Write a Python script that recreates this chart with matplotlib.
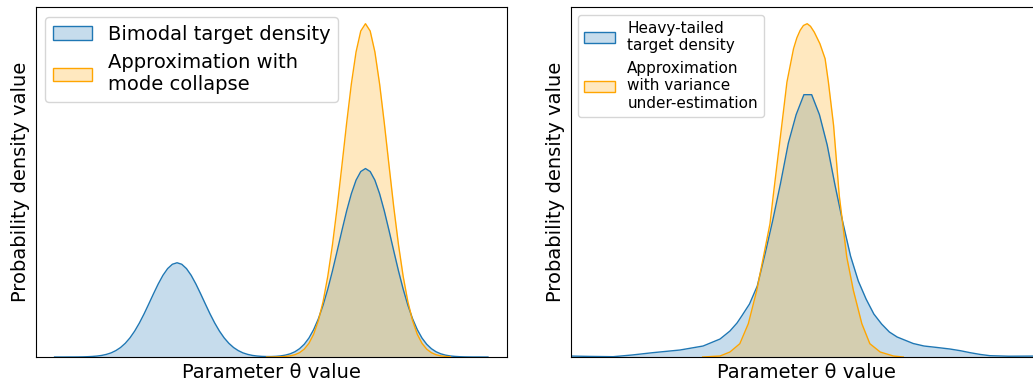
import numpy as np
import matplotlib
matplotlib.use("Agg")
import matplotlib.pyplot as plt
from matplotlib.patches import Patch
from matplotlib.colors import to_rgba

# ---- left panel: bimodal target vs. mode-collapsed approximation ----
bimodal_x = np.round(np.arange(-4.6, 4.61, 0.1), 2)
bimodal_y = [
    0.0000, 0.0000, 0.0000, 0.0001, 0.0001, 0.0002, 0.0004, 0.0008, 0.0014, 0.0024,
    0.0040, 0.0066, 0.0104, 0.0161, 0.0239, 0.0345, 0.0482, 0.0653, 0.0856, 0.1087,
    0.1338, 0.1594, 0.1840, 0.2058, 0.2228, 0.2337, 0.2375, 0.2337, 0.2228, 0.2058,
    0.1840, 0.1594, 0.1338, 0.1087, 0.0856, 0.0653, 0.0482, 0.0345, 0.0239, 0.0161,
    0.0104, 0.0066, 0.0040, 0.0025, 0.0016, 0.0012, 0.0012, 0.0017, 0.0028, 0.0048,
    0.0080, 0.0131, 0.0209, 0.0321, 0.0478, 0.0690, 0.0964, 0.1305, 0.1712, 0.2174,
    0.2675, 0.3188, 0.3680, 0.4114, 0.4456, 0.4674, 0.4749, 0.4674, 0.4456, 0.4114,
    0.3680, 0.3188, 0.2675, 0.2174, 0.1712, 0.1305, 0.0964, 0.0690, 0.0478, 0.0321,
    0.0209, 0.0131, 0.0080, 0.0047, 0.0027, 0.0015, 0.0008, 0.0004, 0.0002, 0.0001,
    0.0001, 0.0000, 0.0000,
]
collapse_x = np.round(np.arange(-0.1, 3.81, 0.1), 2)
collapse_y = [
    0.0000, 0.0001, 0.0003, 0.0006, 0.0014, 0.0029, 0.0057, 0.0109, 0.0198, 0.0345,
    0.0575, 0.0916, 0.1395, 0.2034, 0.2836, 0.3782, 0.4827, 0.5892, 0.6880, 0.7687,
    0.8215, 0.8399, 0.8215, 0.7687, 0.6880, 0.5892, 0.4827, 0.3782, 0.2836, 0.2034,
    0.1395, 0.0916, 0.0575, 0.0345, 0.0198, 0.0109, 0.0057, 0.0029, 0.0014, 0.0006,
]

# ---- right panel: heavy-tailed target vs. variance under-estimation ----
heavy_x = [-5.05, -4.60, -4.10, -3.70, -3.26, -2.68, -2.19, -1.83, -1.62, -1.47,
           -1.37, -1.205, -1.04, -0.875, -0.71, -0.545, -0.38, -0.215, -0.05, 0.115,
           0.28, 0.445, 0.61, 0.775, 0.94, 1.105, 1.27, 1.435, 1.60, 1.765,
           1.93, 2.27, 2.50, 2.78, 3.05, 3.27, 3.48, 3.70, 3.90, 4.30, 5.10]
heavy_y = [0.0025, 0.0015, 0.0008, 0.0050, 0.0108, 0.0175, 0.0275, 0.0450, 0.0650, 0.0850,
           0.1025, 0.1325, 0.1775, 0.2575, 0.3425, 0.4350, 0.5350, 0.6060, 0.6560, 0.6560,
           0.6060, 0.5300, 0.4300, 0.3375, 0.2525, 0.1900, 0.1450, 0.1075, 0.0825, 0.0625,
           0.0500, 0.0338, 0.0275, 0.0238, 0.0200, 0.0158, 0.0108, 0.0063, 0.0033, 0.0020,
           0.0025]
narrow_x = [-2.20, -1.83, -1.62, -1.41, -1.23, -1.05, -0.91, -0.77, -0.70, -0.52,
            -0.41, -0.27, -0.20, -0.13, -0.06, 0.02, 0.09, 0.17, 0.29, 0.40,
            0.47, 0.58, 0.70, 0.86, 1.00, 1.18, 1.35, 1.57, 1.85, 2.06]
narrow_y = [0.0000, 0.0025, 0.0125, 0.0333, 0.0833, 0.1668, 0.2500, 0.3333, 0.4043, 0.5793,
            0.6875, 0.7710, 0.7980, 0.8168, 0.8290, 0.8335, 0.8270, 0.8125, 0.7835, 0.7460,
            0.6875, 0.5793, 0.4043, 0.2500, 0.1668, 0.0833, 0.0333, 0.0125, 0.0025, 0.0000]

blue = "#1f77b4"
orange = "orange"

fig = plt.figure(figsize=(10.33, 3.85), dpi=100)
ax1 = fig.add_axes([0.0346, 0.0727, 0.456, 0.909])
ax2 = fig.add_axes([0.5525, 0.0727, 0.456, 0.909])


def density(ax, x, y, color):
    ax.fill_between(x, y, color=color, alpha=0.25, linewidth=0)
    ax.plot(x, y, color=color, linewidth=1.0)


density(ax1, bimodal_x, bimodal_y, blue)
density(ax1, collapse_x, collapse_y, orange)
ax1.set_xlim(-5, 5)
ax1.set_ylim(0, max(collapse_y) * 1.05)

density(ax2, heavy_x, heavy_y, blue)
density(ax2, narrow_x, narrow_y, orange)
ax2.set_xlim(-5, 5)
ax2.set_ylim(0, max(narrow_y) * 1.05)

labels = [("Bimodal target density", "Approximation with\nmode collapse", 14),
          ("Heavy-tailed\ntarget density", "Approximation\nwith variance\nunder-estimation", 11)]
for ax, (lab1, lab2, fs) in zip([ax1, ax2], labels):
    ax.set_xticks([])
    ax.set_yticks([])
    ax.set_xlabel("Parameter θ value", fontsize=14)
    ax.set_ylabel("Probability density value", fontsize=14)
    handles = [Patch(facecolor=to_rgba(blue, 0.25), edgecolor=blue, label=lab1),
               Patch(facecolor=to_rgba(orange, 0.25), edgecolor=orange, label=lab2)]
    ax.legend(handles=handles, loc="upper left", fontsize=fs)

fig.savefig("out.png", dpi=100)
